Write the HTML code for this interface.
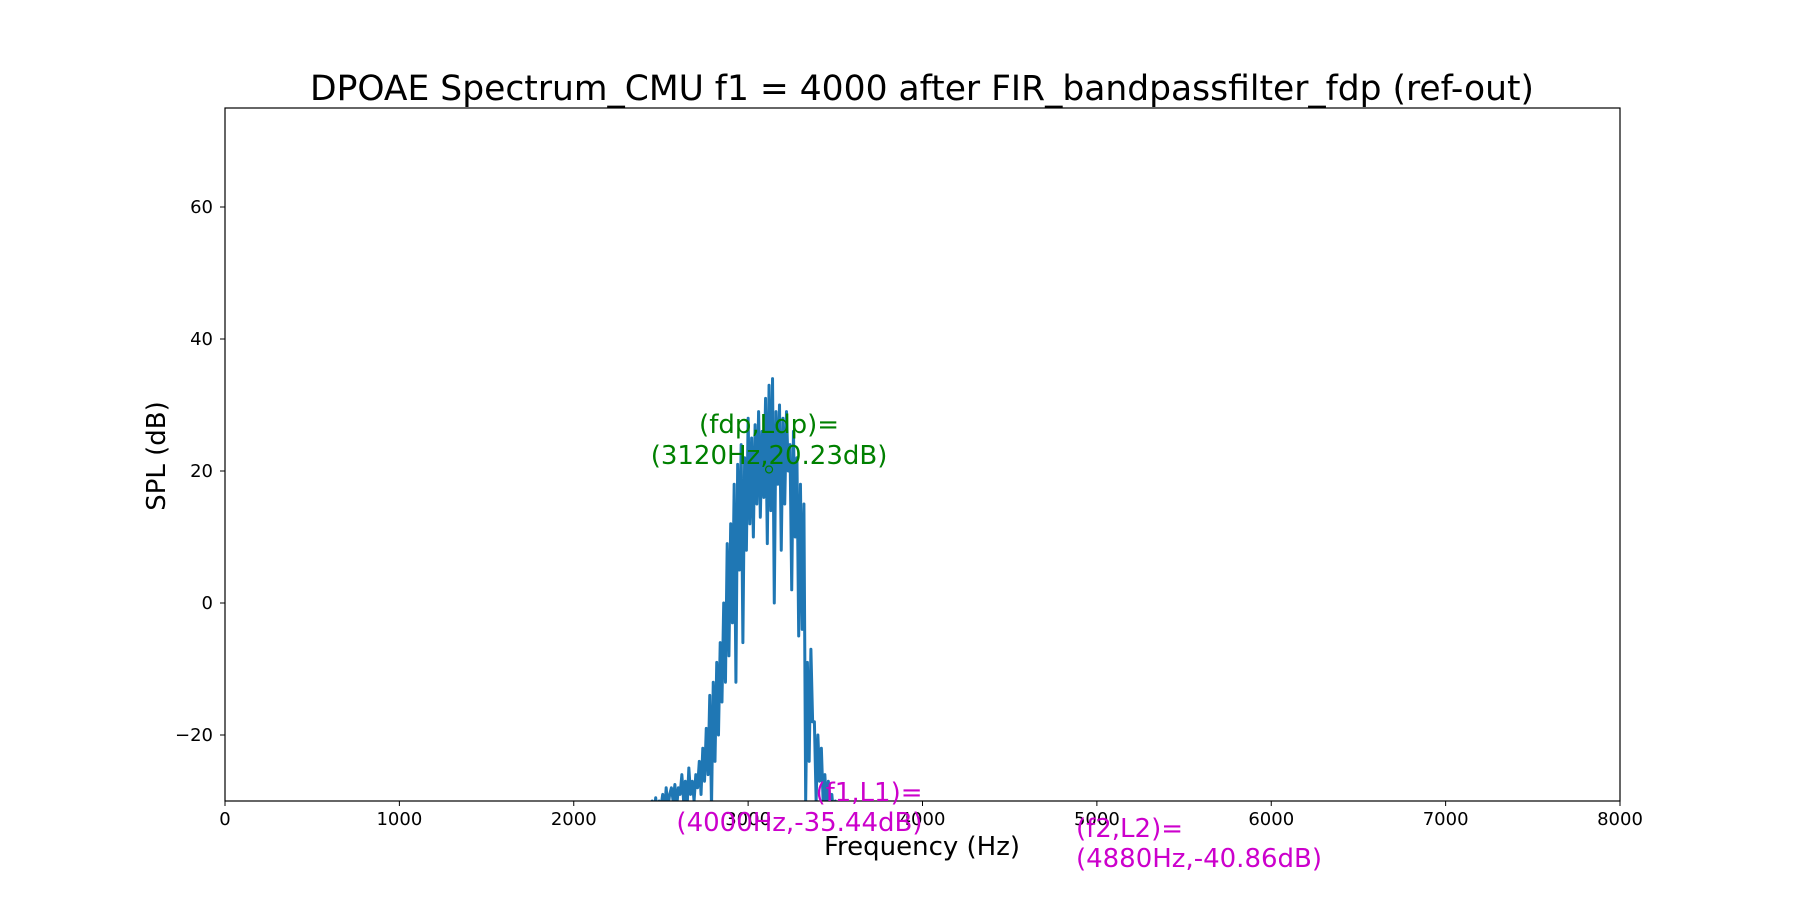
<!DOCTYPE html>
<html><head><meta charset="utf-8"><style>
body{margin:0;background:#fff;}
svg text{font-family:"DejaVu Sans","Liberation Sans",sans-serif;}
</style></head><body>
<svg id="chart" width="1800" height="900" xmlns="http://www.w3.org/2000/svg">
<defs><clipPath id="plotclip"><rect x="225" y="108" width="1395" height="693"/></clipPath></defs>
<text x="922" y="100" font-size="34.5" text-anchor="middle" fill="#000">DPOAE Spectrum_CMU f1 = 4000 after FIR_bandpassfilter_fdp (ref-out)</text>
<g id="series" clip-path="url(#plotclip)"></g>
<g id="axes"></g>
<g id="annots"></g>
</svg>
<script>
const freqStart = 2400;
const freqStep = 10;
const splValues = [
-33,-32,-34,-31,-33,-30,-32,-29.5,-33,-30,-31,-29,-32,-28,-31,-29,-28,-30,-27.5,-31,
-28,-29,-26,-30,-27,-31,-25,-29,-27,-30,-26,-28,-24,-29,-22,-27,-19,-26,-14,-31,
-12,-24,-9,-20,-6,-15,0,-12,9,-8,12,-3,18,-12,21,5,24,-6,22,8,
28,12,25,10,27,15,29,13,26,16,31,9,33,14,34,0,29,18,30,8,
28,15,29,20,24,2,26,10,22,-5,18,-4,15,-30,-9,-24,-7,-18,-18,-30,
-20,-27,-22,-30,-26,-31,-27,-30,-29,-32,-30,-33,-31,-32,-34,-33,-35,-34,-36,-35,-36
];
const xTicks = [0,1000,2000,3000,4000,5000,6000,7000,8000];
const yTicks = [-20,0,20,40,60];
const ldpPoint = [3120, 20.23];
const f1Point = [4000, -35.44];
const f2Point = [4880, -40.86];

const X0=225,X1=1620,Y0=801,Y1=108,XMIN=0,XMAX=8000,YMIN=-30,YMAX=75;
function xs(v){return X0+(v-XMIN)/(XMAX-XMIN)*(X1-X0);}
function ys(v){return Y0-(v-YMIN)/(YMAX-YMIN)*(Y0-Y1);}
const NS="http://www.w3.org/2000/svg";
function mk(tag,attrs,parent,txt){const e=document.createElementNS(NS,tag);for(const k in attrs)e.setAttribute(k,attrs[k]);if(txt!==undefined)e.textContent=txt;parent.appendChild(e);return e;}

const series=document.getElementById('series');
let d='';
splValues.forEach((v,i)=>{d+=(i?'L':'M')+xs(freqStart+i*freqStep).toFixed(2)+','+ys(v).toFixed(2);});
const line=mk('path',{d:d,fill:'none',stroke:'#1f77b4','stroke-width':3,'stroke-linejoin':'round'},series);



const axes=document.getElementById('axes');
const frame=mk('rect',{x:X0,y:Y1,width:X1-X0,height:Y0-Y1,fill:'none',stroke:'#000','stroke-width':1.2},axes);


xTicks.forEach(t=>{
  const x=xs(t);
  mk('line',{x1:x,x2:x,y1:Y0,y2:Y0+5,stroke:'#000','stroke-width':1},axes);
  const tl=mk('text',{x:x,y:Y0+24,'font-size':18,'text-anchor':'middle',fill:'#000'},axes,String(t));
  
  
});
yTicks.forEach(t=>{
  const y=ys(t);
  mk('line',{x1:X0-5,x2:X0,y1:y,y2:y,stroke:'#000','stroke-width':1},axes);
  const tl=mk('text',{x:X0-12,y:y+6,'font-size':18,'text-anchor':'end',fill:'#000'},axes,(t<0?'\u2212'+(-t):String(t)));
  
  
});
const xl=mk('text',{x:922,y:855,'font-size':26,'text-anchor':'middle',fill:'#000'},axes,'Frequency (Hz)');


const yl=mk('text',{x:165,y:456,'font-size':26,'text-anchor':'middle',fill:'#000',transform:'rotate(-90 165 456)'},axes,'SPL (dB)');



const an=document.getElementById('annots');
const mkr=mk('circle',{cx:xs(ldpPoint[0]),cy:ys(ldpPoint[1]),r:3.5,fill:'none',stroke:'green','stroke-width':1.2},an);


const g1=mk('text',{x:xs(ldpPoint[0]),y:433,'font-size':26,'text-anchor':'middle',fill:'green'},an,'(fdp,Ldp)=');


const g2=mk('text',{x:xs(ldpPoint[0]),y:464,'font-size':26,'text-anchor':'middle',fill:'green'},an,'('+ldpPoint[0]+'Hz,'+ldpPoint[1]+'dB)');


const m1=mk('text',{x:xs(f1Point[0]),y:801,'font-size':26,'text-anchor':'end',fill:'#c0c'},an,'(f1,L1)=');


const m2=mk('text',{x:xs(f1Point[0]),y:831,'font-size':26,'text-anchor':'end',fill:'#c0c'},an,'('+f1Point[0]+'Hz,'+f1Point[1]+'dB)');


const n1=mk('text',{x:xs(f2Point[0]),y:837,'font-size':26,'text-anchor':'start',fill:'#c0c'},an,'(f2,L2)=');


const n2=mk('text',{x:xs(f2Point[0]),y:867,'font-size':26,'text-anchor':'start',fill:'#c0c'},an,'('+f2Point[0]+'Hz,'+f2Point[1]+'dB)');


</script>
</body></html>
